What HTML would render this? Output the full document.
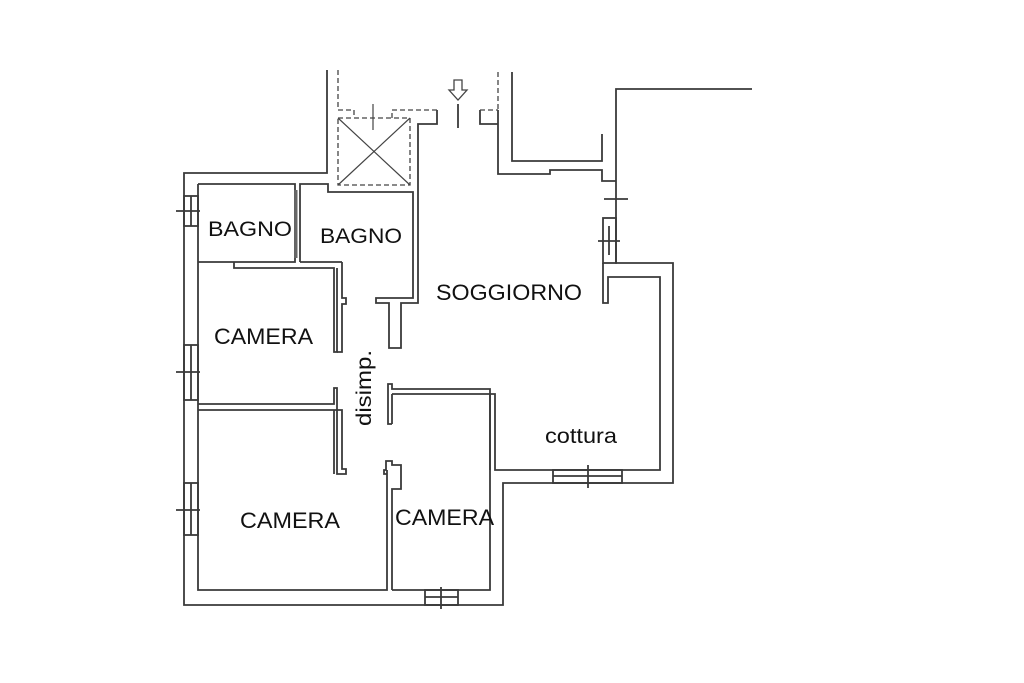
<!DOCTYPE html>
<html><head><meta charset="utf-8"><style>
html,body{margin:0;padding:0;background:#fff;}
svg{display:block}
text{font-family:"Liberation Sans",Arial,sans-serif;fill:#111}
</style></head><body>
<svg width="1024" height="683" viewBox="0 0 1024 683" xmlns="http://www.w3.org/2000/svg">
<g fill="none" stroke="#3a3a3a" stroke-width="1.8">
<polyline points="327,70 327,173 184,173 184,605 503,605 503,483 673,483 673,263 616,263 616,89 752,89"/>
<polyline points="198,184 198,590 387,590 387,470"/>
<polyline points="198,184 295,184 295,262 198,262"/>
<polyline points="300,262 300,184 328,184 328,192 413,192 413,298 376,298 376,303 389,303 389,348 401,348 401,303 418,303 418,124 437,124 437,110"/>
<line x1="300" y1="262" x2="342" y2="262"/>
<polyline points="234,262 234,268 334,268 334,352 337,352 337,268"/>
<polyline points="342,262 342,298 346,298 346,304 342,304 342,352 337,352"/>
<polyline points="198,404 334,404 334,388 337,388 337,474 346,474 346,469 342,469 342,410 198,410"/>
<line x1="334" y1="410" x2="334" y2="474"/>
<polyline points="392,424 388,424 388,384 392,384 392,389 490,389 490,470"/>
<polyline points="392,394 392,424"/>
<polyline points="392,394 495,394 495,470 660,470 660,277 608,277 608,303 603,303 603,263"/>
<polyline points="392,590 392,489 401,489 401,465 392,465 392,461 386,461 386,470 384,470 384,474 387,474"/>
<polyline points="392,590 490,590 490,394"/>
<polyline points="512,72 512,161 602,161 602,134"/>
<polyline points="498,110 498,174 550,174 550,170 602,170 602,181 616,181"/>
<polyline points="480,110 480,124 498,124"/>
<line x1="458" y1="104" x2="458" y2="128"/>
<rect x="184" y="196" width="14" height="30"/><line x1="191" y1="196" x2="191" y2="226"/><line x1="176" y1="211" x2="200" y2="211"/>
<rect x="184" y="345" width="14" height="55"/><line x1="191" y1="345" x2="191" y2="400"/><line x1="176" y1="372" x2="200" y2="372"/>
<rect x="184" y="483" width="14" height="52"/><line x1="191" y1="483" x2="191" y2="535"/><line x1="176" y1="510" x2="200" y2="510"/>
<rect x="425" y="590" width="33" height="15"/><line x1="425" y1="597" x2="458" y2="597"/><line x1="441" y1="587" x2="441" y2="609"/>
<rect x="553" y="470" width="69" height="13"/><line x1="553" y1="476" x2="622" y2="476"/><line x1="588" y1="465" x2="588" y2="488"/>
<rect x="603" y="218" width="13" height="45"/><line x1="609" y1="226" x2="609" y2="255"/><line x1="598" y1="241" x2="620" y2="241"/>
<line x1="604" y1="199" x2="628" y2="199"/>
<line x1="296" y1="190" x2="296" y2="258" stroke-width="3" stroke="#666"/>
</g>
<g fill="none" stroke="#444" stroke-width="1.3" stroke-dasharray="5,3">
<line x1="338" y1="70" x2="338" y2="110"/>
<polyline points="338,110 354,110 354,118"/>
<polyline points="392,118 392,110 438,110"/>
<line x1="480" y1="110" x2="498" y2="110"/>
<line x1="498" y1="72" x2="498" y2="110"/>
<rect x="338" y="118" width="72" height="67"/>
</g>
<g stroke="#444" stroke-width="1.2">
<line x1="338" y1="118" x2="410" y2="185"/><line x1="410" y1="118" x2="338" y2="185"/>
<line x1="373" y1="104" x2="373" y2="130"/>
</g>
<path d="M454,80 h8 v10 h5 l-9,10 l-9,-10 h5 z" fill="#fff" stroke="#444" stroke-width="1.3"/>
<text x="208" y="236" font-size="21" textLength="84" lengthAdjust="spacingAndGlyphs">BAGNO</text>
<text x="320" y="243" font-size="21" textLength="82" lengthAdjust="spacingAndGlyphs">BAGNO</text>
<text x="436" y="300" font-size="22" textLength="146" lengthAdjust="spacingAndGlyphs">SOGGIORNO</text>
<text x="214" y="344" font-size="22" textLength="99" lengthAdjust="spacingAndGlyphs">CAMERA</text>
<text x="240" y="528" font-size="22" textLength="100" lengthAdjust="spacingAndGlyphs">CAMERA</text>
<text x="395" y="525" font-size="22" textLength="99" lengthAdjust="spacingAndGlyphs">CAMERA</text>
<text x="545" y="443" font-size="21" textLength="72" lengthAdjust="spacingAndGlyphs">cottura</text>
<text transform="translate(371,388) rotate(-90)" text-anchor="middle" font-size="21" textLength="76" lengthAdjust="spacingAndGlyphs">disimp.</text>
</svg>
</body></html>
